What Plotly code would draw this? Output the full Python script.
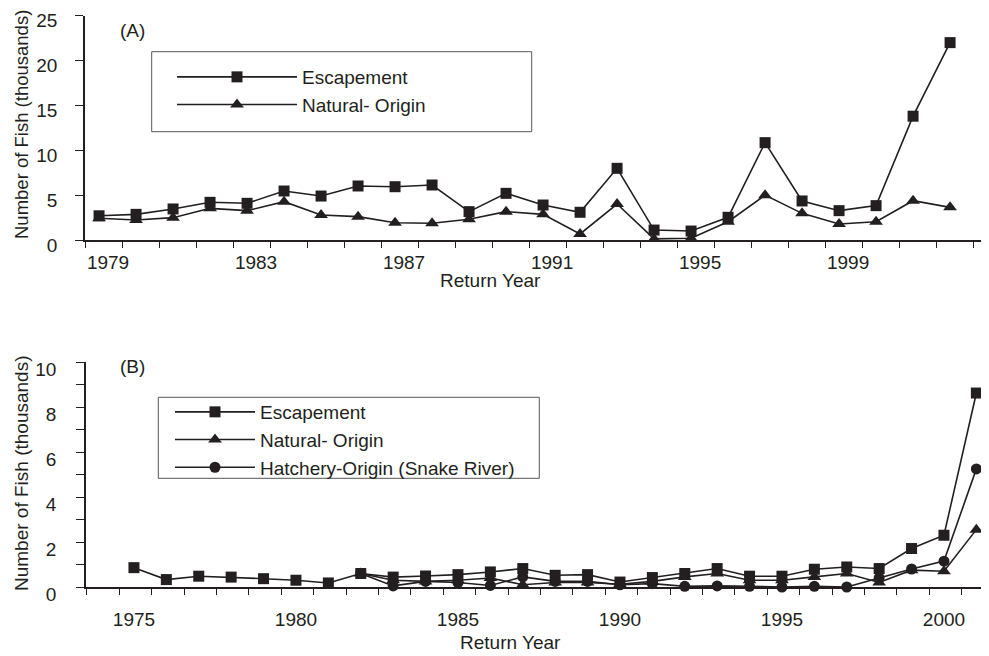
import plotly.graph_objects as go

# ---------------- data ----------------
years_a = list(range(1979, 2003))
escapement_a = [2.7, 2.86, 3.46, 4.2, 4.09, 5.46, 4.9, 6.02, 5.94, 6.13, 3.16, 5.2,
                3.9, 3.09, 7.99, 1.11, 1.0, 2.53, 10.85, 4.35, 3.27, 3.83, 13.8, 22.0]
natural_a = [2.42, 2.23, 2.49, 3.53, 3.27, 4.27, 2.79, 2.6, 1.93, 1.86, 2.31, 3.16,
             2.86, 0.67, 4.01, 0.12, 0.2, 2.04, 5.0, 2.97, 1.78, 2.04, 4.38, 3.64]

years_b = list(range(1975, 2002))
escapement_b = [0.86, 0.33, 0.48, 0.44, 0.37, 0.30, 0.18, 0.6, 0.44, 0.49, 0.55, 0.67,
                0.82, 0.52, 0.55, 0.22, 0.42, 0.6, 0.82, 0.48, 0.48, 0.79, 0.89, 0.82,
                1.71, 2.3, 8.62]
years_b2 = list(range(1982, 2002))
natural_b = [0.6, 0.3, 0.25, 0.3, 0.4, 0.1, 0.2, 0.2, 0.12, 0.25, 0.45, 0.6, 0.3, 0.3,
             0.45, 0.6, 0.2, 0.75, 0.7, 2.55]
hatchery_b = [0.6, 0.05, 0.25, 0.2, 0.07, 0.45, 0.25, 0.25, 0.1, 0.15, 0.03, 0.05,
              0.03, 0.0, 0.03, 0.0, 0.4, 0.8, 1.15, 5.25]

ticks_a = [1979, 1983, 1987, 1991, 1995, 1999]
ticks_b = [1975, 1980, 1985, 1990, 1995, 2000]

INK = "#231f20"
FONT = "Liberation Sans, Arial, sans-serif"
OFF = 8            # the page body adds an 8 px margin around the figure
W, H = 989 - OFF, 656 - OFF


def px(x):
    return (x - OFF) / W


def py(y):
    return 1 - (y - OFF) / H


fig = go.Figure()

common = dict(mode="lines+markers", line=dict(color=INK, width=1.6), cliponaxis=False)

# Panel A
fig.add_trace(go.Scatter(x=years_a, y=natural_a, name="Natural- Origin",
                         marker=dict(symbol="triangle-up", size=12, color=INK),
                         xaxis="x", yaxis="y", legend="legend", legendrank=2, **common))
fig.add_trace(go.Scatter(x=years_a, y=escapement_a, name="Escapement",
                         marker=dict(symbol="square", size=11, color=INK),
                         xaxis="x", yaxis="y", legend="legend", legendrank=1, **common))

# Panel B
fig.add_trace(go.Scatter(x=years_b2, y=hatchery_b, name="Hatchery-Origin (Snake River)",
                         marker=dict(symbol="circle", size=11, color=INK),
                         xaxis="x2", yaxis="y2", legend="legend2", legendrank=3, **common))
fig.add_trace(go.Scatter(x=years_b2, y=natural_b, name="Natural- Origin",
                         marker=dict(symbol="triangle-up", size=12, color=INK),
                         xaxis="x2", yaxis="y2", legend="legend2", legendrank=2, **common))
fig.add_trace(go.Scatter(x=years_b, y=escapement_b, name="Escapement",
                         marker=dict(symbol="square", size=11, color=INK),
                         xaxis="x2", yaxis="y2", legend="legend2", legendrank=1, **common))

axis_font = dict(family=FONT, size=19, color=INK)

fig.update_layout(
    width=W, height=H,
    margin=dict(l=0, r=0, t=0, b=0, pad=0, autoexpand=False),
    paper_bgcolor="white", plot_bgcolor="white",
    font=axis_font,
    showlegend=True,
    xaxis=dict(domain=[px(85), px(983)], range=[1978.62, 2002.89], anchor="y",
               tickvals=ticks_a, ticktext=[str(t) for t in ticks_a], ticks="",
               ticklabelshift=9, ticklabelstandoff=4,
               minor=dict(tick0=1978.62, dtick=1, ticks="outside", ticklen=6,
                          tickwidth=1.2, tickcolor=INK),
               showline=True, linecolor=INK, linewidth=1.6, showgrid=False,
               zeroline=False, tickfont=axis_font, automargin=False),
    yaxis=dict(domain=[py(240), py(15.7)], range=[0, 25], anchor="x",
               tickvals=[0, 5, 10, 15, 20, 25], ticks="outside", ticklen=8,
               tickwidth=1.2, tickcolor=INK, ticklabelshift=5, ticklabelstandoff=14,
               showline=True, linecolor=INK, linewidth=1.6, showgrid=False,
               zeroline=False, tickfont=axis_font, automargin=False),
    xaxis2=dict(domain=[px(86), 1.0], range=[1973.52, 2001.39], anchor="y2",
                tickvals=ticks_b, ticktext=[str(t) for t in ticks_b], ticks="",
                ticklabelstandoff=14,
                minor=dict(tick0=1973.55, dtick=1, ticks="outside", ticklen=6,
                           tickwidth=1.2, tickcolor=INK),
                showline=True, linecolor=INK, linewidth=2.2, showgrid=False,
                zeroline=False, tickfont=axis_font, automargin=False),
    yaxis2=dict(domain=[py(587), py(362)], range=[0, 10], anchor="x2",
                tickvals=[0, 2, 4, 6, 8, 10], ticks="outside", ticklen=8,
                tickwidth=1.2, tickcolor=INK, ticklabelshift=7, ticklabelstandoff=16,
                minor=dict(dtick=1, ticks="outside", ticklen=8, tickwidth=1.2,
                           tickcolor=INK),
                showline=True, linecolor=INK, linewidth=1.6, showgrid=False,
                zeroline=False, tickfont=axis_font, automargin=False),
    legend=dict(x=px(172), y=py(58), xanchor="left", yanchor="top",
                borderwidth=0, bgcolor="rgba(255,255,255,0)",
                font=dict(family=FONT, size=19, color=INK), itemwidth=120,
                tracegroupgap=0),
    legend2=dict(x=px(170), y=py(393), xanchor="left", yanchor="top",
                 borderwidth=0, bgcolor="rgba(255,255,255,0)",
                 font=dict(family=FONT, size=19, color=INK), itemwidth=80,
                 tracegroupgap=0),
)

# legend frames
box = dict(type="rect", xref="paper", yref="paper", line=dict(color="#555", width=1),
           fillcolor="rgba(0,0,0,0)", layer="below")
fig.add_shape(x0=px(151.7), x1=px(531.7), y0=py(131.7), y1=py(51.7), **box)
fig.add_shape(x0=px(158.3), x1=px(539.3), y0=py(478.3), y1=py(397.3), **box)

ann = dict(showarrow=False, xref="paper", yref="paper", font=axis_font)
title_font = dict(family=FONT, size=18.5, color=INK)
fig.add_annotation(text="(A)", x=px(133), y=py(30.7), xanchor="center", yanchor="middle", **ann)
fig.add_annotation(text="(B)", x=px(133), y=py(366.7), xanchor="center", yanchor="middle", **ann)
fig.add_annotation(text="Return Year", x=px(490.8), y=py(280), xanchor="center", yanchor="middle", **ann)
fig.add_annotation(text="Return Year", x=px(510.8), y=py(642), xanchor="center", yanchor="middle", **ann)
fig.add_annotation(text="Number of Fish (thousands)", x=px(21), y=py(125), textangle=-90,
                   xanchor="center", yanchor="middle", showarrow=False, xref="paper",
                   yref="paper", font=title_font)
fig.add_annotation(text="Number of Fish (thousands)", x=px(21), y=py(473), textangle=-90,
                   xanchor="center", yanchor="middle", **ann)

fig.write_html("out.html")
